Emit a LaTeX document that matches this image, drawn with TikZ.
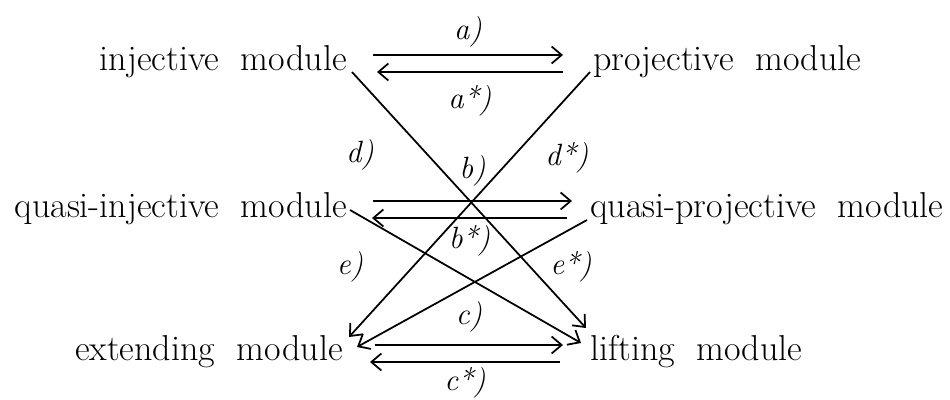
\documentclass[tikz,border=0pt]{standalone}
\usepackage{tikz}
\usetikzlibrary{arrows.meta,positioning,calc}

\tikzset{
  modnode/.style={inner sep=0pt,font=\fontsize{20.5}{24}\selectfont,
    execute at begin node={\spaceskip=0.6em\relax}},
  lbl/.style={inner sep=0pt,font=\fontsize{17.5}{21}\selectfont\itshape},
  imp/.style={-{Straight Barb[length=2mm,width=3.4mm]},line width=1pt},
}

\begin{document}
\begin{tikzpicture}[x=0.02cm,y=-0.02cm]
\useasboundingbox (0,0) rectangle (950,399);
% modules
\node[modnode,anchor=base east] (inj) at (347,70) {injective module};
\node[modnode,anchor=base west] (proj) at (593,70) {projective module};
\node[modnode,anchor=base east] (qinj) at (347,217) {quasi-injective module};
\node[modnode,anchor=base west] (qproj) at (590,217) {quasi-projective module};
\node[modnode,anchor=base east] (ext) at (343,360) {extending module};
\node[modnode,anchor=base west] (lift) at (590,360) {lifting module};
% horizontal pairs
\draw[imp] ($(inj.base east)+(26,-15)$) -- node[lbl,above=4pt] (la) {a)} ($(proj.base west)+(-30,-15)$);
\draw[imp] ($(proj.base west)+(-30,2)$) -- node[lbl,below=7pt] (las) {a*)} ($(inj.base east)+(30,2)$);
\draw[imp] ($(qinj.base east)+(26,-16)$) -- node[lbl,above=8pt] (lb) {b)} ($(qproj.base west)+(-18,-16)$);
\draw[imp] ($(qproj.base west)+(-23,1)$) -- node[lbl,below=4pt] (lbs) {b*)} ($(qinj.base east)+(25,1)$);
\draw[imp] ($(ext.base east)+(32,-15)$) -- node[lbl,above=7pt] (lc) {c)} ($(lift.base west)+(-27,-15)$);
\draw[imp] ($(lift.base west)+(-30,2)$) -- node[lbl,below=2.5pt] (lcs) {c*)} ($(ext.base east)+(27,2)$);
% diagonals
\draw[imp] ($(inj.base east)+(5,2)$) -- ($(lift.base west)+(-4,-32)$);
\draw[imp] ($(proj.base west)+(-3,2)$) -- ($(ext.base east)+(6,-23)$);
\draw[imp] ($(qinj.base east)+(3,-7)$) -- ($(lift.base west)+(-9,-17)$);
\draw[imp] ($(qproj.base west)+(-3,3)$) -- ($(ext.base east)+(14,-13)$);
% labels of the diagonals
\node[lbl] (ld) at (360,155) {d)};
\node[lbl] (lds) at (567,158) {d*)};
\node[lbl] (le) at (350,267) {e)};
\node[lbl] (les) at (571,267) {e*)};
\end{tikzpicture}
\end{document}
